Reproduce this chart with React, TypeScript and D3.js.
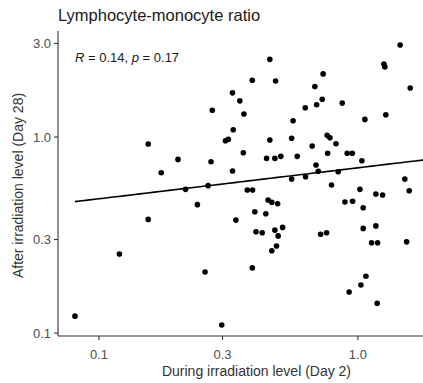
import React from "react";
import * as d3 from "d3";

// Lymphocyte-monocyte ratio: day 2 (during irradiation) vs day 28 (after irradiation)
const duringDay2 = [
  0.155, 0.174, 0.202, 0.271, 0.274, 0.328, 0.35, 0.363, 0.33, 0.308,
  0.316, 0.328, 0.457, 0.391, 0.481, 0.361, 0.734, 0.682, 0.728, 0.693,
  0.626, 0.562, 0.457, 0.555, 0.87, 0.761, 0.78, 0.823, 0.666, 0.764,
  0.909, 0.951, 0.444, 0.478, 0.504, 0.583, 1.036, 0.689, 0.703, 0.839,
  1.456, 1.26, 1.271, 1.592, 1.282, 1.064, 0.216, 0.264, 0.24, 0.155,
  0.338, 0.12, 0.257, 0.0808, 0.298, 0.555, 0.628, 1.518, 1.578, 0.791,
  1.018, 1.173, 1.245, 0.374, 0.392, 0.45, 0.465, 0.49, 0.891, 0.954,
  1.048, 0.4, 0.441, 0.404, 0.427, 0.478, 0.512, 0.492, 0.718, 0.757,
  1.048, 1.173, 1.129, 1.191, 1.542, 0.485, 0.465, 0.391, 1.074, 1.027,
  0.925, 1.187,
];
const afterDay28 = [
  0.921, 0.657, 0.769, 0.748, 1.37, 1.68, 1.53, 1.31, 1.09, 0.958,
  0.973, 0.671, 2.49, 1.95, 1.93, 0.832, 2.1, 1.81, 1.56, 1.46,
  1.41, 1.21, 0.965, 0.985, 1.49, 1.02, 0.992, 0.924, 0.9, 0.826,
  0.826, 0.826, 0.778, 0.778, 0.797, 0.797, 0.757, 0.72, 0.669, 0.665,
  2.95, 2.36, 2.28, 1.78, 1.3, 1.23, 0.541, 0.565, 0.452, 0.38,
  0.377, 0.253, 0.205, 0.122, 0.11, 0.61, 0.627, 0.61, 0.532, 0.569,
  0.541, 0.512, 0.506, 0.537, 0.537, 0.477, 0.465, 0.457, 0.466, 0.47,
  0.436, 0.416, 0.406, 0.329, 0.325, 0.335, 0.346, 0.313, 0.319, 0.325,
  0.342, 0.352, 0.289, 0.289, 0.292, 0.278, 0.263, 0.215, 0.195, 0.176,
  0.162, 0.142,
];

const xTickValues = [0.1, 0.3, 1.0];
const yTickValues = [0.1, 0.3, 1.0, 3.0];

// Least-squares fit in log10 space: log10(y) = fitIntercept + fitSlope * log10(x)
const fitIntercept = -0.157;
const fitSlope = 0.158;
const fitXExtent = [0.0808, 2.02];

const xDomain = [0.0695, 2.371];
const yDomain = [0.0966, 3.475];

const statLabel = { r: "0.14", p: "0.17" };

const W = 423;
const H = 383;
const panel = { left: 58, right: 455, top: 31, bottom: 336 };
const font = "'Liberation Sans', Arial, Helvetica, sans-serif";

export default function App() {
  const x = d3.scaleLog().domain(xDomain).range([panel.left, panel.right]);
  const y = d3.scaleLog().domain(yDomain).range([panel.bottom, panel.top]);

  const fitLine = d3
    .line<number>()
    .x((v) => x(v))
    .y((v) => y(Math.pow(10, fitIntercept + fitSlope * Math.log10(v))));

  const fmt = (v: number) => v.toFixed(1);

  return (
    <svg
      width={W}
      height={H}
      style={{ position: "absolute", left: 0, top: 0, background: "#fff" }}
      fontFamily={font}
    >
      <rect width={W} height={H} fill="#fff" />

      {/* title */}
      <text x={panel.left} y={20.5} fontSize={16.5} fill="#1a1a1a">
        Lymphocyte-monocyte ratio
      </text>

      {/* axes */}
      <line
        x1={panel.left}
        x2={panel.left}
        y1={panel.top}
        y2={panel.bottom}
        stroke="#333"
        strokeWidth={1.1}
      />
      <line
        x1={panel.left}
        x2={panel.right}
        y1={panel.bottom}
        y2={panel.bottom}
        stroke="#333"
        strokeWidth={1.1}
      />

      {yTickValues.map((v) => (
        <g key={"y" + v}>
          <line
            x1={panel.left - 4}
            x2={panel.left}
            y1={y(v)}
            y2={y(v)}
            stroke="#333"
            strokeWidth={1.1}
          />
          <text
            x={panel.left - 7}
            y={y(v)}
            dy="0.35em"
            textAnchor="end"
            fontSize={13}
            fill="#4d4d4d"
          >
            {fmt(v)}
          </text>
        </g>
      ))}

      {xTickValues.map((v) => (
        <g key={"x" + v}>
          <line
            x1={x(v)}
            x2={x(v)}
            y1={panel.bottom}
            y2={panel.bottom + 4}
            stroke="#333"
            strokeWidth={1.1}
          />
          <text
            x={x(v)}
            y={359}
            textAnchor="middle"
            fontSize={13}
            fill="#4d4d4d"
          >
            {fmt(v)}
          </text>
        </g>
      ))}

      {/* axis titles */}
      <text
        x={(panel.left + panel.right) / 2}
        y={376}
        textAnchor="middle"
        fontSize={14}
        fill="#333"
      >
        During irradiation level (Day 2)
      </text>
      <text
        transform={`translate(23,${(panel.top + panel.bottom) / 2 + 2}) rotate(-90)`}
        textAnchor="middle"
        fontSize={14}
        fill="#333"
      >
        After irradiation level (Day 28)
      </text>

      {/* points */}
      {duringDay2.map((d, i) => (
        <circle key={i} cx={x(d)} cy={y(afterDay28[i])} r={2.8} fill="#000" />
      ))}

      {/* regression line */}
      <path
        d={fitLine(d3.range(0, 51).map((k) => fitXExtent[0] * Math.pow(fitXExtent[1] / fitXExtent[0], k / 50))) || ""}
        fill="none"
        stroke="#000"
        strokeWidth={1.6}
      />

      {/* correlation annotation */}
      <text x={75} y={62} fontSize={13} fill="#1a1a1a">
        <tspan fontStyle="italic">R</tspan>
        {` = ${statLabel.r}, `}
        <tspan fontStyle="italic">p</tspan>
        {` = ${statLabel.p}`}
      </text>
    </svg>
  );
}
